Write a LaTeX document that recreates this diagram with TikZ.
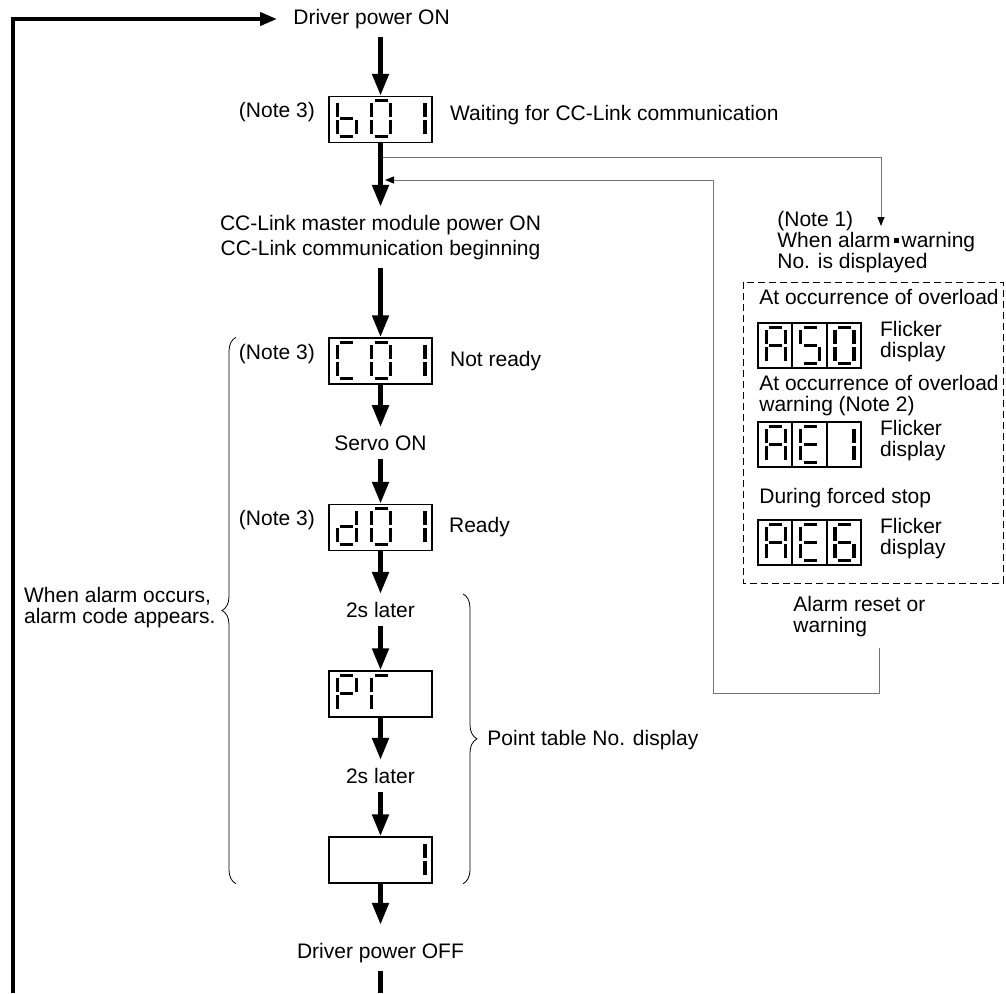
\documentclass[tikz,border=0pt]{standalone}
\usepackage{fontspec}
\setmainfont{Liberation Sans}
\usetikzlibrary{arrows.meta,calc,decorations.pathreplacing,positioning}

\newcommand\sega{(3,0)--(16,0)}
\newcommand\segb{(19,2.5)--(19,16.5)}
\newcommand\segc{(19,19.5)--(19,33.5)}
\newcommand\segd{(3,36)--(16,36)}
\newcommand\sege{(0,19.5)--(0,33.5)}
\newcommand\segf{(0,2.5)--(0,16.5)}
\newcommand\segg{(3,18)--(16,18)}
\newcommand\segdigit[3]{%
  \begin{scope}[shift={($(#1.north west)+(9+34.33*#2,5)$)}]
    \foreach \sg in {#3}{\edef\segcmd{\noexpand\draw[segline] \csname seg\sg\endcsname;}\segcmd}
  \end{scope}}
\newcommand\celldiv[1]{%
  \foreach \k in {1,2}
    \draw[line width=0.75pt] ($(#1.north west)!\k/3!(#1.north east)$) -- ($(#1.south west)!\k/3!(#1.south east)$);}

\begin{document}
\begin{tikzpicture}[x=0.5pt,y=-0.5pt,
  font=\fontsize{10.5pt}{10.5pt}\selectfont,
  lbl/.style={inner sep=4pt},
  notetext/.style={inner sep=4pt,yshift=3.5pt},
  disp/.style={draw,line width=0.75pt,minimum width=51.5pt,minimum height=23pt,inner sep=0pt},
  almdisp/.style={disp,minimum height=22.5pt},
  segline/.style={line width=1.6pt},
  flow/.style={line width=2.5pt,-{Triangle[width=8pt,length=11pt]}},
  trunk/.style={line width=2.5pt},
  loopline/.style={line width=2pt,-{Triangle[width=6.5pt,length=8.5pt]}},
  tline/.style={draw=black!55,line width=0.5pt,-{Triangle[width=3.5pt,length=4.5pt,color=black]}},
  brc/.style={decorate,decoration={brace,amplitude=7pt},line width=0.4pt},
  dbox/.style={dash pattern=on 3.5pt off 2pt,line width=0.5pt}]
  \useasboundingbox (0,0) rectangle (1006,993);

  \node[lbl,anchor=west,inner xsep=8pt] (pon) at (277,19) {Driver power ON};
  \node[disp] (b01) at (380.5,119.5) {};
  \node[notetext,left=2.5pt of b01] (nb01) {(Note 3)};
  \node[lbl,right=4.5pt of b01,yshift=2pt] (wait) {Waiting for CC-Link communication};
  \node[lbl,align=center,font=\fontsize{10.5pt}{12.5pt}\selectfont] (ccl) at (380.5,237.5) {CC-Link master module power ON\\CC-Link communication beginning};
  \node[disp] (c01) at (380.5,361) {};
  \node[notetext,left=2.5pt of c01] (nc01) {(Note 3)};
  \node[lbl,right=4.5pt of c01] (nrdy) {Not ready};
  \node[lbl] (son) at (380.5,443) {Servo ON};
  \node[disp] (d01) at (380.5,527.5) {};
  \node[notetext,left=2.5pt of d01] (nd01) {(Note 3)};
  \node[lbl,right=4pt of d01] (rdy) {Ready};
  \node[lbl] (lat1) at (380.5,610) {2s later};
  \node[disp] (pr) at (380.5,694) {};
  \node[lbl] (lat2) at (380.5,776) {2s later};
  \node[disp] (one) at (380.5,860) {};
  \node[lbl] (poff) at (380.5,953) {Driver power OFF};
  \coordinate (bot) at (380.5,993);
  \coordinate (lbot) at (13,993);

  \node[lbl,align=left,anchor=east] (alrm) at (224,607.5) {When alarm occurs,\\alarm code appears.};
  \node[lbl,anchor=west] (ptno) at (479,740) {Point table No. display};
  \coordinate (lbx) at (236,0);
  \coordinate (rbx) at (463,0);

  \node[lbl,align=left,anchor=west] (almno) at (769,242) {(Note 1)\\When alarm\hspace{1.5pt}\rule[2pt]{2.5pt}{2.5pt}\hspace{1.5pt}warning\\No. is displayed};
  \node[lbl,anchor=west] (h1) at (751,297) {At occurrence of overload};
  \node[almdisp] (a50) at (809.5,345.5) {};
  \node[lbl,align=left,right=5pt of a50,yshift=1.75pt] (f1) {Flicker\\display};
  \node[lbl,align=left,anchor=west] (h2) at (751,396) {At occurrence of overload\\warning (Note 2)};
  \node[almdisp] (ae1) at (809.5,444.5) {};
  \node[lbl,align=left,right=5pt of ae1,yshift=1.75pt] (f2) {Flicker\\display};
  \node[lbl,anchor=west] (h3) at (751,498) {During forced stop};
  \node[almdisp] (ae6) at (809.5,542.5) {};
  \node[lbl,align=left,right=5pt of ae6,yshift=1.75pt] (f3) {Flicker\\display};
  \node[lbl,align=left,anchor=west] (rst) at (785,617) {Alarm reset or\\warning};
  \draw[dbox] (743,282) rectangle (1003,583);

  \coordinate (brk) at (380.5,157);
  \coordinate (almin) at (881,226);
  \coordinate (rsb) at (879,648);
  \coordinate (join) at (385,180);
  \draw[tline] (brk) -| (almin);
  \draw[tline] (rsb) |- (713,693) |- (join);

  \draw[loopline] (lbot) |- (pon.west);
  \draw[flow] (b01.north |- pon.south) -- (b01.north);
  \draw[flow] (b01.south) -- (ccl.north);
  \draw[flow] (ccl.south) -- (c01.north);
  \draw[flow] (c01.south) -- (son.north);
  \draw[flow] (son.south) -- (d01.north);
  \draw[flow] (d01.south) -- (lat1.north);
  \draw[flow] (lat1.south) -- (pr.north);
  \draw[flow] (pr.south) -- (lat2.north);
  \draw[flow] (lat2.south) -- (one.north);
  \draw[flow,shorten >=5pt] (one.south) -- (poff.north);
  \draw[trunk] (poff.south) -- (bot);

  \draw[brc] (one.south -| lbx) -- (c01.north -| lbx);
  \draw[brc] (lat1.north -| rbx) -- (one.south -| rbx);

  \segdigit{b01}{0}{c,d,e,f,g}
  \segdigit{b01}{1}{a,b,c,d,e,f}
  \segdigit{b01}{2}{b,c}
  \segdigit{c01}{0}{a,d,e,f}
  \segdigit{c01}{1}{a,b,c,d,e,f}
  \segdigit{c01}{2}{b,c}
  \segdigit{d01}{0}{b,c,d,e,g}
  \segdigit{d01}{1}{a,b,c,d,e,f}
  \segdigit{d01}{2}{b,c}
  \segdigit{pr}{0}{a,b,e,f,g}
  \segdigit{pr}{1}{a,e,f}
  \segdigit{one}{2}{b,c}
  \celldiv{a50}
  \segdigit{a50}{0}{a,b,c,e,f,g}
  \segdigit{a50}{1}{a,c,d,f,g}
  \segdigit{a50}{2}{a,b,c,d,e,f}
  \celldiv{ae1}
  \segdigit{ae1}{0}{a,b,c,e,f,g}
  \segdigit{ae1}{1}{a,d,e,f,g}
  \segdigit{ae1}{2}{b,c}
  \celldiv{ae6}
  \segdigit{ae6}{0}{a,b,c,e,f,g}
  \segdigit{ae6}{1}{a,d,e,f,g}
  \segdigit{ae6}{2}{a,c,d,e,f,g}
\end{tikzpicture}
\end{document}
